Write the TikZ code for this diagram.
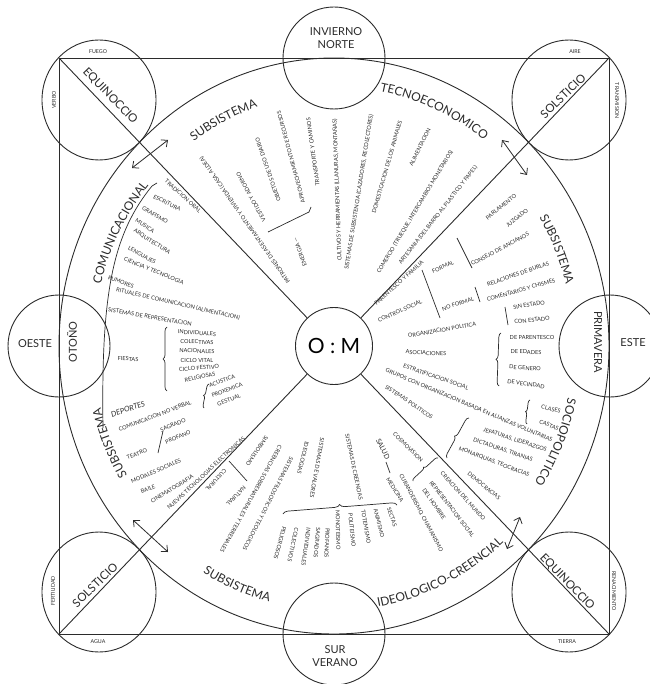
\documentclass[tikz,border=0pt]{standalone}
\usepackage{fontspec}
\setmainfont{Lato}
\usepackage{tikz}
\usetikzlibrary{arrows.meta, calc, decorations.text, decorations.pathreplacing}
\definecolor{OMink}{HTML}{2B2B2B}
\newcommand\omarcfont{\fontsize{12}{12}\selectfont}
\tikzset{
  omline/.style={draw=OMink, line width=0.9pt},
  omring/.style={circle, draw=OMink, line width=0.9pt, minimum size=102pt, inner sep=0pt},
  omcard/.style={font=\fontsize{11}{11}\selectfont, text=OMink, inner sep=1pt},
  omdiag/.style={font=\fontsize{11.5}{11.5}\selectfont, text=OMink, inner sep=1pt},
  omtiny/.style={font=\fontsize{5.3}{5.3}\selectfont, text=OMink, inner sep=0.5pt},
  omitem/.style={font=\fontsize{5.6}{6}\selectfont, text=OMink, inner sep=0.3pt},
  ombar/.style={draw=OMink, line width=0.7pt},
  ombrace/.style={draw=OMink, line width=0.7pt, decorate, decoration={brace, amplitude=#1}},
  ombrace/.default=4,
  omarr/.style={{Straight Barb[length=5pt,width=9pt]}-{Straight Barb[length=5pt,width=9pt]},
    draw=OMink, line width=0.8pt},
  omarc/.style={decorate, decoration={text along path, text align=center,
    text color=OMink, text={|\omarcfont|#1}}},
}

\begin{document}
\begin{tikzpicture}[x=1pt, y=-1pt]
  \useasboundingbox (0,0) rectangle (649,684);
  %% Frame, ring and centre
  \coordinate (C) at (334,346);
  \coordinate (tl) at (59,58);  \coordinate (tr) at (609,58);
  \coordinate (bl) at (59,634); \coordinate (br) at (609,634);
  \draw[omline] (tl) rectangle (br);
  \draw[omline] (C) ellipse [x radius=275, y radius=288];
  \node[omring, minimum size=77pt] (om) at (C) {\fontsize{21}{21}\selectfont O : M};
  \draw[omline] (tl) -- (om); \draw[omline] (tr) -- (om);
  \draw[omline] (bl) -- (om); \draw[omline] (br) -- (om);

  %% Cardinal circles
  \node[omring] (north) at (334,58) {};
  \node[omring] (south) at (334,634) {};
  \node[omring] (west) at (59,346) {};
  \node[omring] (east) at (610,346) {};
  \node[omcard] (invierno) at (336,32) {INVIERNO};
  \node[omcard] (norte) at (336,45) {NORTE};
  \node[omcard] (sur) at (335,650) {SUR};
  \node[omcard] (verano) at (335,663) {VERANO};
  \node[omcard] (oeste) at (35,344) {OESTE};
  \node[omcard, rotate=90] (otono) at (72,342) {OTOÑO};
  \node[omcard, rotate=-90] (primavera) at (598,342) {PRIMAVERA};
  \node[omcard] (este) at (633,343) {ESTE};

  %% Corner circles
  \draw[omline] (99,100) ellipse [x radius=57, y radius=60];
  \draw[omline] (569,100) ellipse [x radius=57, y radius=60];
  \draw[omline] (99,592) ellipse [x radius=57, y radius=60];
  \draw[omline] (569,592) ellipse [x radius=57, y radius=60];
  \node[omdiag, rotate=-46] (eq-tl) at (110,96) {EQUINOCCIO};
  \node[omdiag, rotate=44] (so-tr) at (563,96) {SOLSTICIO};
  \node[omdiag, rotate=44] (so-bl) at (95,585) {SOLSTICIO};
  \node[omdiag, rotate=-46] (eq-br) at (567,582) {EQUINOCCIO};
  \node[omtiny] (fuego) at (98,52) {FUEGO};
  \node[omtiny, rotate=90] (verbo) at (54,100) {VERBO};
  \node[omtiny] (aire) at (575,52) {AIRE};
  \node[omtiny, rotate=-90] (transm) at (617,101) {TRANSMISION};
  \node[omtiny, rotate=90] (fertil) at (53,591) {FERTILIDAD};
  \node[omtiny] (agua) at (98,642) {AGUA};
  \node[omtiny, rotate=-90] (renac) at (614,591) {RENACIMIENTO};
  \node[omtiny] (tierra) at (567,642) {TIERRA};

  %% Double arrows on the diagonals
  \coordinate (atl-a) at (132,168); \coordinate (atl-b) at (168,140);
  \coordinate (atr-a) at (502,140); \coordinate (atr-b) at (527,175);
  \coordinate (abl-a) at (133,520); \coordinate (abl-b) at (168,552);
  \coordinate (abr-a) at (520,517); \coordinate (abr-b) at (507,549);
  \draw[omarr] (atl-a) -- (atl-b); \draw[omarr] (atr-a) -- (atr-b);
  \draw[omarr] (abl-a) -- (abl-b); \draw[omarr] (abr-a) -- (abr-b);

  %% Subsystem names along the ring
  \path[omarc={SUBSISTEMA}] ($(C)+(-132:240.6 and 252)$)
    arc[start angle=-132, end angle=-102, x radius=240.6, y radius=252];
  \path[omarc={TECNOECONOMICO}] ($(C)+(-88:247 and 259)$)
    arc[start angle=-88, end angle=-44, x radius=247, y radius=259];
  \path[omarc={SUBSISTEMA}] ($(C)+(-37:239 and 251)$)
    arc[start angle=-37, end angle=-8, x radius=239, y radius=251];
  \path[omarc={SOCIOPOLITICO}] ($(C)+(3:239 and 251)$)
    arc[start angle=3, end angle=42, x radius=239, y radius=251];
  \path[omarc={SUBSISTEMA}] ($(C)+(128:253 and 265)$)
    arc[start angle=128, end angle=98, x radius=253, y radius=265];
  \path[omarc={IDEOLOGICO-CREENCIAL}] ($(C)+(86:253 and 265)$)
    arc[start angle=86, end angle=42, x radius=253, y radius=265];
  \path[omarc={SUBSISTEMA}] ($(C)+(143:240.6 and 252)$)
    arc[start angle=143, end angle=172, x radius=240.6, y radius=252];
  \path[omarc={COMUNICACIONAL}] ($(C)+(188:240.6 and 252)$)
    arc[start angle=188, end angle=226, x radius=240.6, y radius=252];

  %% Comunicacional
  \foreach \x/\y/\r/\t [count=\i] in {183/196/-42/{TRADICION ORAL}, 167/203/-27/{ESCRITURA},
      155/215/-30/{GRAFISMO}, 145/226/-33/{MUSICA}, 152/242/-33/{ARQUITECTURA},
      142/255/-29/{LENGUAJES}, 154/271/-22/{CIENCIA Y TECNOLOGIA}, 121/282/-20/{RUMORES},
      178/304/-13/{RITUALES DE COMUNICACION (ALIMENTACION)},
      150/317/-10/{SISTEMAS DE REPRESENTACION}, 128/359/-2/{FIESTAS},
      197/333/-4/{INDIVIDUALES}, 197/342/-1/{COLECTIVAS}, 197/351/-2/{NACIONALES},
      197/360/0/{CICLO VITAL}, 199/368/4/{CICLO FESTIVO}, 200/377/12/{RELIGIOSAS},
      155/416/21/{COMUNICACION NO VERBAL}, 222/381/19/{ACUSTICA}, 227/390/20/{PROXEMICA},
      229/400/20/{GESTUAL}, 137/454/20/{TEATRO}, 173/425/23/{SAGRADO}, 178/437/23/{PROFANO},
      156/471/24/{MODALES SOCIALES}, 148/489/20/{BAILE}, 172/489/32/{CINEMATOGRAFIA},
      206/473/43/{NUEVAS TECNOLOGIAS ELECTRONICAS}}
    \node[omitem, rotate=\r] (cm-\i) at (\x,\y) {\t};
  \node[omitem, font=\fontsize{7.5}{7.5}\itshape, rotate=19] (deportes) at (128,409) {DEPORTES};
  \draw[ombar] (157,183) -- (152,186) .. controls (112,235) and (101,295) .. (103,428);
  \draw[ombrace] (167,391) -- (167,327);
  \draw[ombrace=3] (204,408) -- (209,384);
  \draw[ombar] (158,453) -- (163,431);

  %% Tecnoeconomico
  \foreach \x/\y/\r/\t [count=\i] in {245/220/125/{PATRONES DE ASENTAMIENTO Y VIVIENDA (CASA, ALDEA)},
      251/197/119/{VESTIDO Y ADORNO}, 268/170/109/{OBJETOS DE USO DIARIO},
      291/157/105/{APROVECHAMIENTO DE RECURSOS}, 313/152/98/{TRANSPORTE Y CAMINOS},
      300/252/110/{ENERGIA ---}, 337/190/92/{CULTIVOS Y HERRAMIENTAS (LLANURAS, MONTAÑAS)},
      359/192/81/{SISTEMAS DE SUBSISTENCIA (CAZADORES, RECOLECTORES)},
      387/167/74/{DOMESTICACION DE LOS ANIMALES}, 420/147/64/{ALIMENTACION},
      415/212/59/{COMERCIO (TRUEQUE, INTERCAMBIOS MONETARIOS)},
      438/215/52/{ARTESANIA (DEL BARRO AL PLASTICO Y PAPEL)}}
    \node[omitem, rotate=\r] (te-\i) at (\x,\y) {\t};
  \draw[ombar] (268,232) -- (309,212) -- (311,207);

  %% Sociopolitico
  \foreach \x/\y/\r/\t [count=\i] in {399/283/42/{PARENTESCO Y FAMILIA}, 501/207/39/{PARLAMENTO},
      517/218/39/{JUZGADO}, 500/249/28/{CONSEJO DE ANCIANOS}, 443/267/23/{FORMAL},
      400/311/24/{CONTROL SOCIAL}, 458/304/18/{NO FORMAL}, 518/274/19/{RELACIONES DE BURLAS},
      521/290/16/{COMENTARIOS Y CHISMES}, 442/330/10/{ORGANIZACION POLITICA},
      529/305/9/{SIN ESTADO}, 532/320/6/{CON ESTADO}, 426/353/-3/{ASOCIACIONES},
      532/337/0/{DE PARENTESCO}, 526/352/-1/{DE EDADES}, 525/368/-4/{DE GENERO},
      526/384/-8/{DE VECINDAD}, 436/377/-19/{ESTRATIFICACION SOCIAL},
      469/405/-23/{GRUPOS CON ORGANIZACION BASADA EN ALIANZAS VOLUNTARIAS},
      409/402/-34/{SISTEMAS POLITICOS}, 551/409/-14/{CLASES}, 549/425/-22/{CASTAS},
      515/440/-18/{JEFATURAS, LIDERAZGOS}, 503/450/-19/{DICTADURAS, TIRANIAS},
      494/462/-21/{MONARQUIAS, TEOCRACIAS}, 484/486/-39/{DEMOCRACIAS}}
    \node[omitem, rotate=\r] (sp-\i) at (\x,\y) {\t};
  \draw[ombar] (457,238) -- (472,268);
  \draw[ombar] (422,270) -- (440,318);
  \draw[ombar] (475,287) -- (480,302);
  \draw[ombar] (505,307) -- (508,325);
  \draw[ombrace] (499,386) -- (501,333);
  \draw[ombrace=3] (527,424) -- (530,400);
  \draw[ombrace] (447,458) -- (469,418);

  %% Ideologico-creencial
  \foreach \x/\y/\r/\t [count=\i] in {257/451/-124/{SIMBOLISMO}, 216/480/-132/{CULTURAL},
      236/496/-134/{NATURAL}, 251/499/-119/{CREENCIAS SOBRENATURALES Y TERRENALES},
      268/504/-117/{SISTEMAS FILOSOFICOS Y TEOLOGICOS}, 303/458/-104/{IDEOLOGIAS},
      317/468/-100/{SISTEMAS DE VALORES}, 280/543/-105/{PELIGROSOS},
      293/545/-102/{COLECTIVOS}, 306/547/-98/{INDIVIDUALES}, 317/543/-95/{SAGRADOS},
      327/543/-92/{PROFANOS}, 354/467/-78/{SISTEMAS DE CREENCIAS},
      338/530/-89/{MONOTEISMO}, 352/530/-84/{POLITEISMO}, 366/527/-80/{TOTEMISMO},
      379/523/-76/{ANIMISMO}, 392/517/-71/{SECTAS}, 421/513/-62/{CURANDERISMO, CHAMANISMO},
      395/490/-58/{MEDICINA}, 408/447/-45/{COSMOVISION}, 463/496/-48/{CREACION DEL MUNDO},
      452/509/-52/{REPRESENTACION SOCIAL}, 434/504/-55/{DEL HOMBRE}}
    \node[omitem, rotate=\r] (ic-\i) at (\x,\y) {\t};
  \node[omitem, font=\fontsize{7}{7}\selectfont, rotate=-64] (salud) at (383,449) {SALUD};
  \draw[ombar] (229,461) -- (247,481);
  \draw[ombrace=5] (283,514) -- (397,505);
  \draw[ombar] (386,462) -- (390,473);
  \draw[ombrace=3] (413,481) -- (438,458);
\end{tikzpicture}
\end{document}
